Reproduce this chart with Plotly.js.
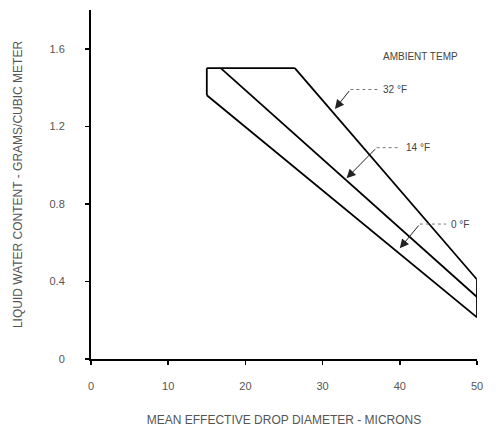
<!DOCTYPE html>
<html>
<head>
<meta charset="utf-8">
<script src="https://cdn.plot.ly/plotly-3.0.1.min.js"></script>
<style>html,body{margin:0;padding:0;background:#fff;}#chart{width:496px;height:431px;}</style>
</head>
<body>
<div id="chart"></div>
<script>
// Envelope boundaries (mean effective drop diameter in microns, LWC in g/m^3)
const upperEdgeX = [15, 26.4];
const upperEdgeY = [1.5, 1.5];
const line32X = [26.4, 50];
const line32Y = [1.5, 0.41];
const line14X = [16.8, 50];
const line14Y = [1.5, 0.32];
const line0X = [15, 50];
const line0Y = [1.36, 0.215];
const leftEdgeX = [15, 15];
const leftEdgeY = [1.5, 1.36];
const rightEdgeX = [50, 50];
const rightEdgeY = [0.41, 0.215];

const xTicks = [0, 10, 20, 30, 40, 50];
const yTicks = [0, 0.4, 0.8, 1.2, 1.6];
const yTickText = ['0', '0.4', '0.8', '1.2', '1.6'];

// Temperature labels with leader arrows
const tempLabels = ['32 °F', '14 °F', '0 °F'];
const tipX = [31.6, 33.1, 40.0];
const tipY = [1.29, 0.932, 0.571];
const elbowX = [33.6, 37.0, 42.6];
const elbowY = [1.39, 1.09, 0.696];
const leaderEndX = [37.1, 40.1, 46.0];

const lineStyle = {color: '#000', width: 1.8};
function seg(x, y) {
  return {x: x, y: y, type: 'scatter', mode: 'lines', line: lineStyle, hoverinfo: 'skip', showlegend: false};
}
const traces = [
  seg(upperEdgeX, upperEdgeY),
  seg(line32X, line32Y),
  seg(line14X, line14Y),
  seg(line0X, line0Y),
  seg(leftEdgeX, leftEdgeY),
  seg(rightEdgeX, rightEdgeY)
];

const font = {family: 'Liberation Sans, Arial, sans-serif', size: 11, color: '#555'};
const titleFont = {family: 'Liberation Sans, Arial, sans-serif', size: 12, color: '#555'};
const labelFont = {family: 'Liberation Sans, Arial, sans-serif', size: 10, color: '#444'};
const shapes = [];
const annotations = [];
for (let i = 0; i < tempLabels.length; i++) {
  shapes.push({type: 'line', xref: 'x', yref: 'y', x0: elbowX[i], y0: elbowY[i], x1: leaderEndX[i], y1: elbowY[i],
    line: {color: '#777', width: 1, dash: 'dot'}});
  annotations.push({x: tipX[i], y: tipY[i], ax: elbowX[i], ay: elbowY[i], axref: 'x', ayref: 'y', xref: 'x', yref: 'y',
    text: '', showarrow: true, arrowhead: 2, arrowsize: 1.8, arrowwidth: 1, arrowcolor: '#222'});
  annotations.push({x: leaderEndX[i] + 0.4, y: elbowY[i], xref: 'x', yref: 'y', text: tempLabels[i], showarrow: false,
    xanchor: 'left', yanchor: 'middle', font: labelFont});
}
annotations.push({x: 42.7, y: 1.56, xref: 'x', yref: 'y', text: 'AMBIENT TEMP', showarrow: false,
  xanchor: 'center', yanchor: 'middle', font: labelFont});

const layout = {
  width: 496, height: 431,
  margin: {l: 91, r: 19, t: 10, b: 72},
  paper_bgcolor: '#fff', plot_bgcolor: '#fff',
  font: font,
  showlegend: false,
  xaxis: {
    range: [0, 50], tickvals: xTicks, ticktext: xTicks.map(String),
    showgrid: false, zeroline: false, showline: true, linecolor: '#000', linewidth: 2,
    ticks: 'outside', ticklen: 4, tickcolor: '#000', tickwidth: 1.5, ticklabelstandoff: 12,
    title: {text: 'MEAN EFFECTIVE DROP DIAMETER - MICRONS', font: titleFont, standoff: 24}
  },
  yaxis: {
    range: [0, 1.8], tickvals: yTicks, ticktext: yTickText,
    showgrid: false, zeroline: false, showline: true, linecolor: '#000', linewidth: 2,
    ticks: 'outside', ticklen: 4, tickcolor: '#000', tickwidth: 1.5, ticklabelstandoff: 18,
    title: {text: 'LIQUID WATER CONTENT - GRAMS/CUBIC METER', font: titleFont, standoff: 24}
  },
  shapes: shapes,
  annotations: annotations
};

Plotly.newPlot('chart', traces, layout, {displayModeBar: false, staticPlot: true});
</script>
</body>
</html>
